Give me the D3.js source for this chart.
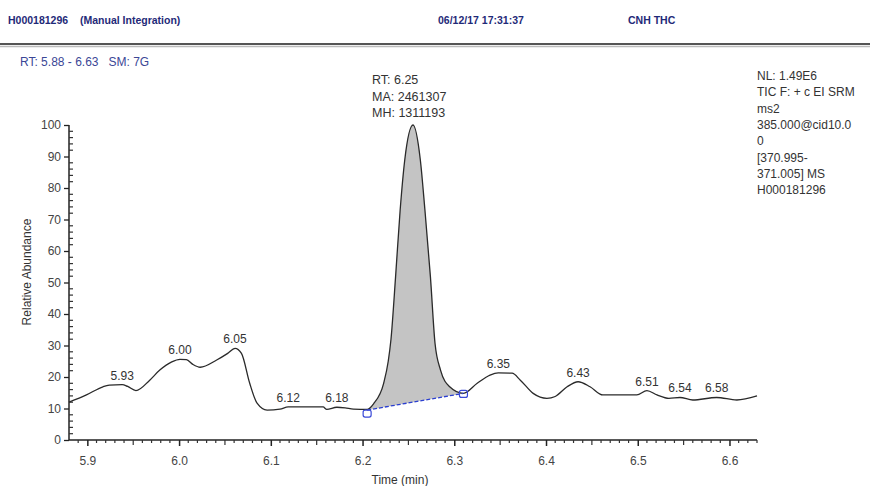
<!DOCTYPE html>
<html>
<head>
<meta charset="utf-8">
<script src="https://cdn.jsdelivr.net/npm/d3@7"></script>
<style>
  body { margin: 0; background: #fff; }
  svg { display: block; font-family: "Liberation Sans", Arial, sans-serif; }
</style>
</head>
<body>
<div id="chart"></div>
<script>
// chromatogram trace, time (min) / relative abundance
var times = [5.880, 5.899, 5.917, 5.924, 5.938, 5.944, 5.953, 5.968, 5.979, 5.992,
  6.001, 6.008, 6.015, 6.023, 6.041, 6.053, 6.061, 6.068, 6.077, 6.085,
  6.096, 6.110, 6.119, 6.157, 6.161, 6.172, 6.181, 6.190, 6.205, 6.212,
  6.223, 6.228, 6.231, 6.236, 6.241, 6.246, 6.255, 6.263, 6.268, 6.274,
  6.279, 6.285, 6.295, 6.310, 6.325, 6.339, 6.348, 6.363, 6.372, 6.386,
  6.401, 6.410, 6.423, 6.435, 6.448, 6.462, 6.499, 6.510, 6.521, 6.534,
  6.546, 6.560, 6.586, 6.608, 6.630];
var abundances = [12.0, 14.3, 16.9, 17.4, 17.6, 17.0, 15.7, 19.0, 22.2, 24.8,
  25.6, 25.5, 24.0, 23.1, 25.4, 27.5, 29.1, 27.5, 18.0, 11.7,
  9.5, 9.8, 10.5, 10.5, 9.7, 10.4, 10.2, 9.8, 9.7, 11.5,
  18.0, 25.0, 32.0, 51.8, 73.0, 88.9, 100, 88.9, 73.0, 51.8,
  30.7, 22.2, 16.9, 14.8, 18.0, 20.6, 21.3, 21.2, 19.0, 14.8,
  13.2, 13.8, 16.9, 18.5, 16.9, 14.3, 14.3, 15.7, 14.3, 13.2,
  13.5, 12.7, 13.5, 12.7, 14.0];

var peakLabels = ["5.93", "6.00", "6.05", "6.12", "6.18", "6.35", "6.43", "6.51", "6.54", "6.58"];
var mainPeak = ["RT: 6.25", "MA: 2461307", "MH: 1311193"];

// manual integration baseline
var baseTimes = [6.205, 6.310];
var baseValues = [9.5, 14.8];

var xTicks = [5.9, 6.0, 6.1, 6.2, 6.3, 6.4, 6.5, 6.6];
var yTicks = [0, 10, 20, 30, 40, 50, 60, 70, 80, 90, 100];

var headerTexts = ["H000181296", "(Manual Integration)", "06/12/17 17:31:37", "CNH THC"];
var rangeText = "RT: 5.88 - 6.63   SM: 7G";
var infoLines = ["NL: 1.49E6", "TIC F: + c EI SRM", "ms2", "385.000@cid10.0", "0",
  "[370.995-", "371.005] MS", "H000181296"];

const WIDTH = 870;
const HEIGHT = 486;
const LEFT = 69, RIGHT = 757, TOP = 125, BOTTOM = 440;

var xScale = d3.scaleLinear().domain([5.88, 6.63]).range([LEFT, RIGHT]);
var yScale = d3.scaleLinear().domain([0, 100]).range([BOTTOM, TOP]);

var svg = d3.select('#chart').append('svg')
  .attr('width', WIDTH)
  .attr('height', HEIGHT);

// header
var headerX = [8, 80, 438, 628];
svg.selectAll('.hdr').data(headerTexts).enter().append('text')
  .attr('x', function(d, i){ return headerX[i]; })
  .attr('y', 24)
  .attr('font-size', 10.5)
  .attr('font-weight', 'bold')
  .attr('fill', '#1f2a78')
  .text(function(d){ return d; });

svg.append('line').attr('x1', 0).attr('x2', WIDTH).attr('y1', 44).attr('y2', 44)
  .attr('stroke', '#555').attr('stroke-width', 2);
svg.append('line').attr('x1', 0).attr('x2', WIDTH).attr('y1', 46.5).attr('y2', 46.5)
  .attr('stroke', '#bbb').attr('stroke-width', 1.5);

svg.append('text')
  .attr('x', 20).attr('y', 66)
  .attr('font-size', 12)
  .attr('fill', '#3b4796')
  .attr('xml:space', 'preserve')
  .text(rangeText);

// right info block
svg.append('g').selectAll('text').data(infoLines).enter().append('text')
  .attr('x', 757)
  .attr('y', function(d, i){ return 80 + i * 16.3; })
  .attr('font-size', 12)
  .attr('fill', '#333')
  .text(function(d){ return d; });

// axes
var xAxis = d3.axisBottom(xScale).tickValues(xTicks).tickSize(6).tickFormat(d3.format('.1f'));
var gx = svg.append('g')
  .attr('transform', 'translate(0,' + BOTTOM + ')')
  .call(xAxis);
gx.select('.domain').attr('d', 'M' + LEFT + ',0H' + RIGHT).attr('stroke', '#222').attr('stroke-width', 1.5);
gx.selectAll('.tick line').attr('stroke', '#222').attr('stroke-width', 1.5);
gx.selectAll('.tick text').attr('font-size', 12).attr('fill', '#444').attr('dy', '1.35em')
  .attr('font-family', '"Liberation Sans", Arial, sans-serif');

var xMinor = d3.range(5.89, 6.63, 0.01).filter(function(t){ return Math.abs(t * 10 - Math.round(t * 10)) > 0.01; });
svg.append('g').selectAll('line').data(xMinor).enter().append('line')
  .attr('x1', function(d){ return xScale(d); })
  .attr('x2', function(d){ return xScale(d); })
  .attr('y1', BOTTOM).attr('y2', function(d){ return Math.abs(d * 20 - Math.round(d * 20)) < 0.01 ? BOTTOM + 5 : BOTTOM + 3; })
  .attr('stroke', '#333').attr('stroke-width', 1.2);

var yAxis = d3.axisLeft(yScale).tickValues(yTicks).tickSize(5).tickFormat(d3.format('d'));
var gy = svg.append('g')
  .attr('transform', 'translate(' + LEFT + ',0)')
  .call(yAxis);
gy.select('.domain').attr('d', 'M0,' + BOTTOM + 'V' + TOP).attr('stroke', '#222').attr('stroke-width', 1.5);
gy.selectAll('.tick line').attr('stroke', '#222').attr('stroke-width', 1.3);
gy.selectAll('.tick text').attr('font-size', 12).attr('fill', '#444')
  .attr('font-family', '"Liberation Sans", Arial, sans-serif');

var yMinor = d3.range(2, 100, 2).filter(function(v){ return v % 10 != 0; });
svg.append('g').selectAll('line').data(yMinor).enter().append('line')
  .attr('x1', LEFT).attr('x2', LEFT + 4)
  .attr('y1', function(d){ return yScale(d); })
  .attr('y2', function(d){ return yScale(d); })
  .attr('stroke', '#333').attr('stroke-width', 1.2);

svg.append('text')
  .attr('x', 400).attr('y', 484)
  .attr('text-anchor', 'middle')
  .attr('font-size', 12).attr('fill', '#333')
  .text('Time (min)');

svg.append('text')
  .attr('transform', 'translate(31,272) rotate(-90)')
  .attr('text-anchor', 'middle')
  .attr('font-size', 12).attr('fill', '#333')
  .text('Relative Abundance');

// data
var points = times.map(function(t, i){ return { t: t, v: abundances[i] }; });

var baseAt = function(t){
  return baseValues[0] + (t - baseTimes[0]) / (baseTimes[1] - baseTimes[0]) * (baseValues[1] - baseValues[0]);
};

var peakPoints = points.filter(function(p){ return p.t >= baseTimes[0] && p.t <= baseTimes[1]; });
var area = d3.area()
  .x(function(d){ return xScale(d.t); })
  .y0(function(d){ return yScale(baseAt(d.t)); })
  .y1(function(d){ return yScale(d.v); })
  .curve(d3.curveMonotoneX);

svg.append('path')
  .attr('d', area(peakPoints))
  .attr('fill', '#c4c4c4');

var line = d3.line()
  .x(function(d){ return xScale(d.t); })
  .y(function(d){ return yScale(d.v); })
  .curve(d3.curveMonotoneX);

svg.append('path')
  .attr('d', line(points))
  .attr('fill', 'none')
  .attr('stroke', '#2a2a2a')
  .attr('stroke-width', 1.3);

// baseline + markers
svg.append('line')
  .attr('x1', xScale(baseTimes[0])).attr('y1', yScale(baseValues[0]))
  .attr('x2', xScale(baseTimes[1])).attr('y2', yScale(baseValues[1]))
  .attr('stroke', '#2b3fd0').attr('stroke-width', 1.3)
  .attr('stroke-dasharray', '4,2');

svg.append('g').selectAll('rect').data(baseTimes).enter().append('rect')
  .attr('x', function(d){ return xScale(d) - 4; })
  .attr('y', function(d, i){ return yScale(baseValues[i]) - 3 + (i == 0 ? 3 : 0); })
  .attr('width', 8).attr('height', 7).attr('rx', 2)
  .attr('fill', 'none').attr('stroke', '#3a4ad8').attr('stroke-width', 1.2);

// peak labels at apex
var apexOf = function(label){
  var c = +label;
  var win = points.filter(function(p){ return Math.abs(p.t - c) <= 0.012; });
  return win.reduce(function(a, b){ return b.v > a.v ? b : a; });
};

svg.append('g').selectAll('text').data(peakLabels).enter().append('text')
  .attr('x', function(d){ return xScale(apexOf(d).t); })
  .attr('y', function(d){ return yScale(apexOf(d).v) - 5; })
  .attr('text-anchor', 'middle')
  .attr('font-size', 12).attr('fill', '#333')
  .text(function(d){ return d; });

var apex = points.reduce(function(a, b){ return b.v > a.v ? b : a; });
svg.append('g').selectAll('text').data(mainPeak).enter().append('text')
  .attr('x', xScale(apex.t) - 41)
  .attr('y', function(d, i){ return 84 + i * 16.5; })
  .attr('font-size', 12.5).attr('fill', '#333')
  .text(function(d){ return d; });
</script>
</body>
</html>
